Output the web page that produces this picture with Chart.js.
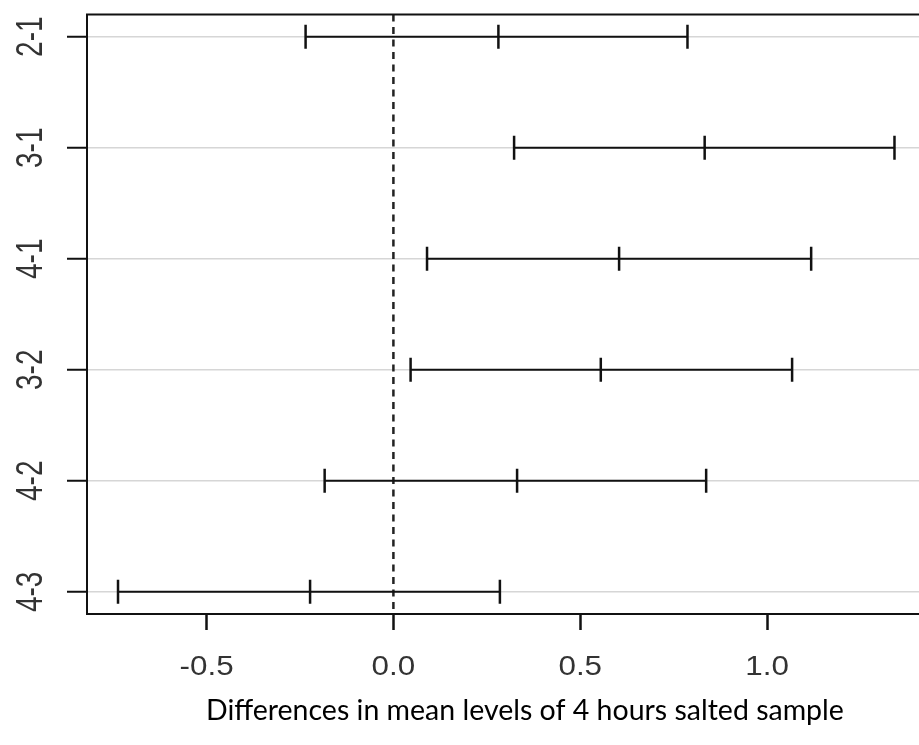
<!DOCTYPE html>
<html>
<head>
<meta charset="utf-8">
<script src="https://cdn.jsdelivr.net/npm/chart.js@4"></script>
<style>
  html, body { margin: 0; padding: 0; background: #fff; overflow: hidden; }
  #wrap { position: relative; width: 940px; height: 745px; }
</style>
</head>
<body>
<div id="wrap"><canvas id="c"></canvas></div>
<script>
// Tukey HSD family-wise confidence intervals (4 hours salted sample)
const comparisons = ['2-1', '3-1', '4-1', '3-2', '4-2', '4-3'];
const diff  = [0.281, 0.833, 0.604, 0.555, 0.331, -0.223];
const lower = [-0.235, 0.323, 0.090, 0.046, -0.184, -0.737];
const upper = [0.787, 1.341, 1.118, 1.067, 0.837, 0.285];
const xTicks = [-0.5, 0, 0.5, 1.0];
const xTickLabels = ['-0.5', '0.0', '0.5', '1.0'];
const xTitle = 'Differences in mean levels of 4 hours salted sample';

const INK = '#111';
const TICK_FONT = '28px "Liberation Sans", Arial, sans-serif';

const datasets = comparisons.map((name, i) => ({
  label: name,
  data: [
    { x: lower[i], y: i + 1 },
    { x: diff[i],  y: i + 1 },
    { x: upper[i], y: i + 1 }
  ],
  showLine: true,
  borderColor: INK,
  borderWidth: 2,
  pointStyle: 'line',
  rotation: 90,
  pointRadius: 12,
  pointHoverRadius: 12,
  pointBorderWidth: 2.5,
  pointBorderColor: INK,
  pointBackgroundColor: INK
}));

const decorations = {
  id: 'decorations',
  beforeDatasetsDraw(chart) {
    const { ctx, chartArea: a, scales: { x } } = chart;
    const x0 = x.getPixelForValue(0);
    ctx.save();
    ctx.strokeStyle = '#222';
    ctx.lineWidth = 2.5;
    ctx.setLineDash([7, 5.5]);
    ctx.beginPath();
    ctx.moveTo(x0, a.top);
    ctx.lineTo(x0, a.bottom);
    ctx.stroke();
    ctx.restore();
  },
  afterDraw(chart) {
    const { ctx, chartArea: a, scales: { x, y } } = chart;
    ctx.save();
    // box: top and right sides
    ctx.strokeStyle = INK;
    ctx.lineWidth = 2;
    ctx.beginPath();
    ctx.moveTo(a.left - 1, a.top);
    ctx.lineTo(a.right, a.top);
    ctx.lineTo(a.right, a.bottom);
    ctx.stroke();

    ctx.fillStyle = '#333';
    ctx.font = TICK_FONT;
    ctx.textAlign = 'center';
    ctx.textBaseline = 'alphabetic';
    // x tick labels (slightly widened glyphs)
    xTicks.forEach((v, i) => {
      ctx.save();
      ctx.translate(x.getPixelForValue(v), 675);
      ctx.scale(1.12, 1);
      ctx.fillText(xTickLabels[i], 0, 0);
      ctx.restore();
    });
    // y tick labels, rotated, glyphs widened across the axis
    comparisons.forEach((name, i) => {
      ctx.save();
      ctx.translate(42, y.getPixelForValue(i + 1));
      ctx.rotate(-Math.PI / 2);
      ctx.scale(1, 1.3);
      ctx.fillText(name, 0, 0);
      ctx.restore();
    });
    // axis title
    ctx.fillStyle = '#000';
    ctx.font = '28.5px Lato, "Open Sans", sans-serif';
    ctx.textAlign = 'left';
    ctx.fillText(xTitle, 206, 720);
    ctx.restore();
  }
};

new Chart(document.getElementById('c'), {
  type: 'scatter',
  data: { datasets },
  options: {
    responsive: true,
    maintainAspectRatio: false,
    animation: false,
    layout: { padding: { top: 10, right: 11, left: 0, bottom: 0 } },
    plugins: { legend: { display: false }, tooltip: { enabled: false } },
    scales: {
      x: {
        type: 'linear',
        min: -0.82,
        max: 1.424,
        afterBuildTicks: s => { s.ticks = xTicks.map(v => ({ value: v })); },
        afterFit: s => { s.height = 131; },
        ticks: { display: false },
        grid: {
          drawOnChartArea: false,
          drawTicks: true,
          tickLength: 16,
          tickWidth: 2.5,
          tickColor: INK
        },
        border: { display: true, color: INK, width: 2 }
      },
      y: {
        type: 'linear',
        min: 0.8,
        max: 6.2,
        reverse: true,
        afterBuildTicks: s => { s.ticks = comparisons.map((_, i) => ({ value: i + 1 })); },
        afterFit: s => { s.width = 87; },
        ticks: { display: false },
        grid: {
          color: '#d6d6d6',
          lineWidth: 1.5,
          drawTicks: true,
          tickLength: 20,
          tickWidth: 2,
          tickColor: INK
        },
        border: { display: true, color: INK, width: 2 }
      }
    }
  },
  plugins: [decorations]
});
</script>
</body>
</html>
